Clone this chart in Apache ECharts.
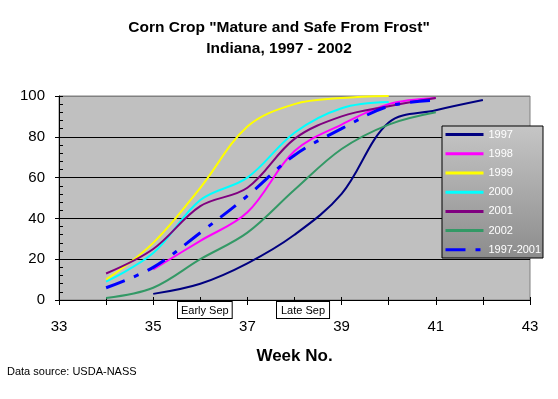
<!DOCTYPE html>
<html>
<head>
<meta charset="utf-8">
<script src="https://cdn.jsdelivr.net/npm/echarts@6/dist/echarts.min.js"></script>
<style>
html,body{margin:0;padding:0;background:#fff;}
#chart{width:558px;height:399px;}
</style>
</head>
<body>
<div id="chart"></div>
<script>
// Data (percent mature, by week number)
const weeks = [34, 35, 36, 37, 38, 39, 40, 41, 42];
const y1997 = [null, 3, 8, 18, 32, 52, 87, 93, 98];
const y1998 = [null, 15, 29, 43, 73, 86, 96, 99, null];
const y1999 = [10, 28, 55, 85, 96, 99, 100, null, null];
const y2000 = [9, 23, 49, 60, 82, 94, 97, null, null];
const y2001 = [13, 25, 46, 55, 79, 90, 95, 99, null];
const y2002 = [1, 6, 20, 33, 54, 74, 86, 92, null];
const yAvg = [6, 16, 33, 51, 71, 84, 95, 98, null];
const seriesNames = ['1997', '1998', '1999', '2000', '2001', '2002', '1997-2001'];
const xTicks = [33, 35, 37, 39, 41, 43];
const yTicks = [0, 20, 40, 60, 80, 100];

const FONT = 'Arial, "Liberation Sans", sans-serif';
function pairs(vals) {
  const out = [];
  weeks.forEach((w, i) => { if (vals[i] !== null) out.push([w, vals[i]]); });
  return out;
}
const colors = ['#000080', '#ff00ff', '#ffff00', '#00ffff', '#800080', '#339966', '#0000ff'];
const allVals = [y1997, y1998, y1999, y2000, y2001, y2002, yAvg];

const series = allVals.map((v, i) => ({
  name: seriesNames[i],
  type: 'line',
  data: pairs(v),
  smooth: 0.35,
  symbol: 'none',
  xAxisIndex: 0,
  yAxisIndex: 0,
  lineStyle: {
    color: colors[i],
    width: i === 6 ? 3 : 2,
    type: i === 6 ? [20, 10, 5, 10] : 'solid'
  },
  itemStyle: { color: colors[i] },
  z: 3 + i
}));

const chart = echarts.init(document.getElementById('chart'), null, { renderer: 'canvas' });
chart.setOption({
  animation: false,
  backgroundColor: '#ffffff',
  grid: {
    left: 59, right: 28, top: 96, bottom: 99,
    show: true, backgroundColor: '#c0c0c0', borderColor: '#808080', borderWidth: 1
  },
  xAxis: [{
    type: 'value', min: 33, max: 43, interval: 1, position: 'bottom',
    axisLine: { lineStyle: { color: '#000', width: 1 } },
    axisTick: { show: true, length: 5, lineStyle: { color: '#000' } },
    axisLabel: {
      color: '#000', fontSize: 15, fontFamily: FONT, margin: 19,
      formatter: v => xTicks.indexOf(v) >= 0 ? String(v) : ''
    },
    splitLine: { show: false },
    name: 'Week No.', nameLocation: 'middle', nameGap: 48,
    nameTextStyle: { color: '#000', fontSize: 17, fontWeight: 'bold', fontFamily: FONT }
  }, {
    type: 'value', min: 33, max: 43, interval: 1, position: 'bottom',
    axisLine: { show: false },
    axisTick: { show: true, inside: true, length: 3, lineStyle: { color: '#000' } },
    axisLabel: { show: false }, splitLine: { show: false }
  }],
  yAxis: [{
    type: 'value', min: 0, max: 100, interval: 20, position: 'left',
    axisLine: { show: true, lineStyle: { color: '#000', width: 1 } },
    axisTick: { show: true, length: 4, lineStyle: { color: '#000' } },
    axisLabel: {
      color: '#000', fontSize: 15, fontFamily: FONT, margin: 14,
      formatter: v => yTicks.indexOf(v) >= 0 ? String(v) : ''
    },
    splitLine: { show: true, lineStyle: { color: ['#000', '#000', '#000', '#000', '#000', '#808080'], width: 1 } }
  }, {
    type: 'value', min: 0, max: 100, interval: 4, position: 'left', offset: 0,
    axisLine: { show: false },
    axisTick: { show: true, inside: true, length: 4, lineStyle: { color: '#000' } },
    axisLabel: { show: false }, splitLine: { show: false }
  }],
  legend: {
    orient: 'vertical', left: 444, top: 129,
    itemWidth: 38, itemHeight: 14, itemGap: 8, padding: 0,
    textStyle: { color: '#fff', fontSize: 11, fontFamily: FONT },
    lineStyle: { width: 3 },
    itemStyle: { opacity: 0 },
    data: seriesNames,
    z: 10
  },
  graphic: [
    {
      type: 'rect', z: 5, silent: true,
      shape: { x: 442, y: 126, width: 101, height: 132 },
      style: {
        fill: { type: 'linear', x: 0, y: 0, x2: 0, y2: 1,
          colorStops: [{ offset: 0, color: '#c6c6c6' }, { offset: 1, color: '#8c8c8c' }] },
        stroke: '#000', lineWidth: 1
      }
    },
    {
      type: 'text', left: 'center', top: 20, z: 10,
      style: { text: 'Corn Crop "Mature and Safe From Frost"', fill: '#000', font: 'bold 15.5px ' + FONT, textAlign: 'center' }
    },
    {
      type: 'text', left: 'center', top: 41, z: 10,
      style: { text: 'Indiana, 1997 - 2002', fill: '#000', font: 'bold 15.5px ' + FONT, textAlign: 'center' }
    },
    {
      type: 'text', x: 178, y: 302, z: 10,
      style: { text: 'Early Sep', fill: '#000', font: '11px ' + FONT, backgroundColor: '#fff', borderColor: '#000', borderWidth: 1, padding: [3, 3, 2, 3] }
    },
    {
      type: 'text', x: 277, y: 302, z: 10,
      style: { text: 'Late Sep', fill: '#000', font: '11px ' + FONT, backgroundColor: '#fff', borderColor: '#000', borderWidth: 1, padding: [3, 4, 2, 4] }
    },
    {
      type: 'text', x: 7, y: 366, z: 10,
      style: { text: 'Data source: USDA-NASS', fill: '#000', font: '11px ' + FONT }
    }
  ],
  series: series
});
</script>
</body>
</html>
